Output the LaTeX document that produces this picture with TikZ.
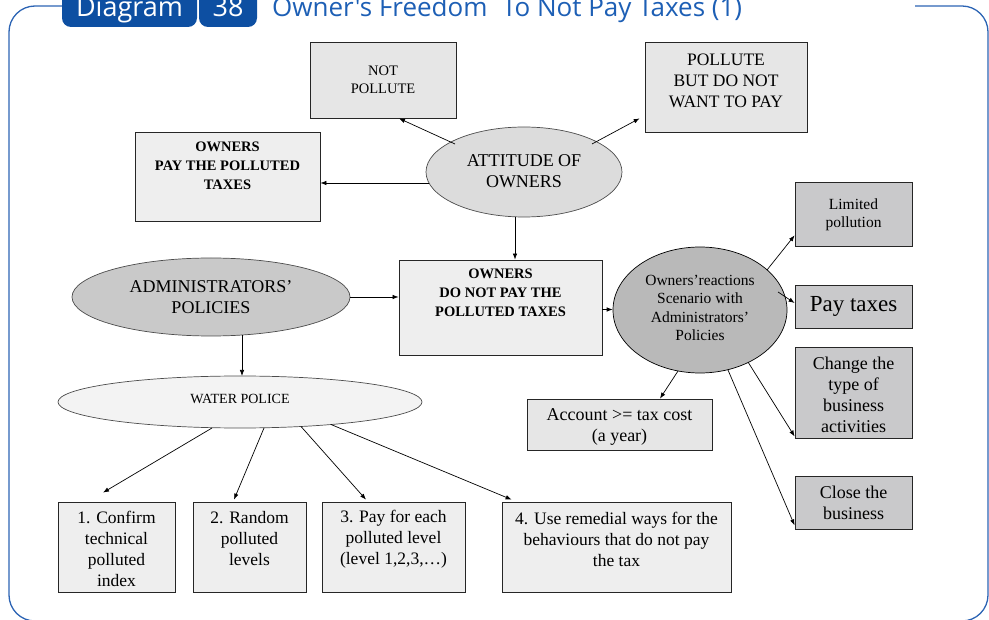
\documentclass[tikz,border=0pt]{standalone}
\usepackage{fontspec}
\setmainfont{Liberation Serif}
\newfontfamily\hdrfont{Open Sans}
\usetikzlibrary{shapes.geometric,arrows.meta,calc}
\definecolor{hdrblue}{HTML}{0D4FA2}
\definecolor{titleblue}{HTML}{1D5FB5}
\definecolor{frameblue}{HTML}{2C64B4}
\definecolor{gA}{HTML}{E6E6E6}
\definecolor{gB}{HTML}{EEEEEE}
\definecolor{gC}{HTML}{DCDCDC}
\definecolor{gD}{HTML}{C9C9C9}
\definecolor{gE}{HTML}{F3F3F3}
\definecolor{gF}{HTML}{B9B9B9}
\definecolor{gG}{HTML}{C9C9CB}
\tikzset{
  boxnode/.style={draw=black!85, line width=0.8pt, rectangle, inner sep=0pt},
  ellnode/.style={draw=black!70, line width=0.7pt, ellipse, inner sep=0pt},
  txt/.style={align=center, inner sep=0pt},
  arr/.style={-{Latex[length=6pt,width=4.5pt]}, line width=0.7pt},
  fA/.style={font=\fontsize{14.5}{18.5}\selectfont},
  fAb/.style={font=\fontsize{14.5}{18.8}\selectfont\bfseries},
  fB/.style={font=\fontsize{17.5}{21}\selectfont},
  fC/.style={font=\fontsize{18}{21}\selectfont},
  fD/.style={font=\fontsize{15.5}{18.5}\selectfont},
  fE/.style={font=\fontsize{23}{26}\selectfont},
  fW/.style={font=\fontsize{14}{17}\selectfont},
  frameline/.style={draw=frameblue, line width=1.3pt, rounded corners=26pt},
  hdrtxt/.style={font=\hdrfont\fontsize{27}{30}\selectfont, inner sep=0pt, anchor=base},
  titletxt/.style={font=\hdrfont\fontsize{26}{30}\selectfont, inner sep=0pt, anchor=base west}
}
\begin{document}
\begin{tikzpicture}[x=1pt,y=-1pt]
\useasboundingbox (0,0) rectangle (989,620);
% frame
\draw[frameline] (62,6) -- (9,6) -- (9,621) -- (988,621) -- (988,6) -- (915,6);
% header
\fill[hdrblue, rounded corners=9pt] (62,-15) -- (62,27) -- (197,27) -- (197,-15) -- cycle;
\fill[hdrblue, rounded corners=9pt] (199,-15) -- (199,27) -- (257,27) -- (257,-15) -- cycle;
\node[hdrtxt, text=white] (hdiag) at (129.5,17) {Diagram};
\node[hdrtxt, text=white] (hnum) at (228,17) {38};
\node[titletxt, text=titleblue] (htitle) at (272,17) {Owner's Freedom\hspace{0.3em} To Not Pay Taxes (1)};

% top nodes
\node[boxnode, fill=gA, minimum width=146, minimum height=76] (notp) at (383,80) {};
\node[txt, fA] (notpt) at (383,80) {NOT\\POLLUTE};
\node[boxnode, fill=gB, minimum width=185, minimum height=89] (pay) at (227.5,176.5) {};
\node[txt, fAb] (payt) at (227.5,166) {OWNERS\\PAY THE POLLUTED\\TAXES};
\node[boxnode, fill=gA, minimum width=162, minimum height=90] (pbd) at (726,87) {};
\node[txt, fB] (pbdt) at (726,81) {POLLUTE\\BUT DO NOT\\WANT TO PAY};
\node[ellnode, fill=gC, minimum width=196, minimum height=90] (att) at (524,172) {};
\node[txt, fC] (attt) at (524,171) {ATTITUDE OF\\OWNERS};

% middle
\node[boxnode, fill=gB, minimum width=203, minimum height=95] (dnp) at (500.5,307.5) {};
\node[txt, fAb] (dnpt) at (500.5,293) {OWNERS\\DO NOT PAY THE\\POLLUTED TAXES};
\node[ellnode, fill=gD, minimum width=278, minimum height=78] (adm) at (211,297) {};
\node[txt, fC] (admt) at (211,297) {ADMINISTRATORS'\\POLICIES};
\node[ellnode, fill=gE, minimum width=364, minimum height=52] (wp) at (240,402) {};
\node[txt, fW] (wpt) at (240,399) {WATER POLICE};
\node[ellnode, draw=black, fill=gF, minimum width=174, minimum height=126] (rea) at (700,310) {};
\node[txt, fD] (reat) at (700,308) {Owners'reactions\\Scenario with\\Administrators'\\Policies};

% right boxes
\node[boxnode, fill=gG, minimum width=117, minimum height=64] (lim) at (853.5,214) {};
\node[txt, fD] (limt) at (853.5,215) {Limited\\pollution};
\node[boxnode, fill=gG, minimum width=117, minimum height=43] (ptx) at (853.5,306.5) {};
\node[txt, fE] (ptxt) at (853.5,306) {Pay taxes};
\node[boxnode, fill=gG, minimum width=117, minimum height=91] (chg) at (853.5,392.5) {};
\node[txt, fC] (chgt) at (853.5,395) {Change the\\type of\\business\\activities};
\node[boxnode, fill=gG, minimum width=117, minimum height=53] (cls) at (853.5,502.5) {};
\node[txt, fC] (clst) at (853.5,503) {Close the\\business};
\node[boxnode, fill=gA, minimum width=185, minimum height=51] (acc) at (619.5,424.5) {};
\node[txt, fC] (acct) at (619.5,427) {Account >= tax cost\\(a year)};

% bottom boxes
\node[boxnode, fill=gB, minimum width=117, minimum height=90] (b1) at (116.5,547) {};
\node[txt, fB] (b1t) at (116.5,549) {1. Confirm\\technical\\polluted\\index};
\node[boxnode, fill=gB, minimum width=113, minimum height=90] (b2) at (249.5,547) {};
\node[txt, fB] (b2t) at (249.5,539) {2. Random\\polluted\\levels};
\node[boxnode, fill=gB, minimum width=143, minimum height=90] (b3) at (393.5,547) {};
\node[txt, fB] (b3t) at (393.5,539) {3. Pay for each\\polluted level\\(level 1,2,3,…)};
\node[boxnode, fill=gB, minimum width=229, minimum height=90] (b4) at (616.5,547) {};
\node[txt, fB] (b4t) at (616.5,539) {4. Use remedial ways for the\\behaviours that do not pay\\the tax};

% connectors
\draw[arr] ($(att)+(-69,-28)$) -- ($(notp.south)+(16,0)$);
\draw[arr] ($(att)+(-95,11)$) -- ($(pay.east)+(0,6.5)$);
\draw[arr] ($(att)+(68,-28)$) -- ($(pbd.south west)+(-5,-14)$);
\draw[arr] ($(att)+(-9,45)$) -- ($(dnp.north)+(14.5,0)$);
\draw[arr] (adm.east) -- (adm.east -| dnp.west);
\draw[arr] ($(adm)+(31,38)$) -- ($(wp)+(2,-26)$);
\draw[arr] ($(dnp.east)+(0,2)$) -- ($(rea.west)+(0,-0.5)$);
\draw[arr] ($(rea)+(67,-40)$) -- ($(lim.south west)+(0,-11)$);
\draw[arr] ($(rea)+(78,-18)$) -- ($(ptx.west)+(0,-3.5)$);
\draw[arr] ($(rea)+(48,52)$) -- ($(chg.south west)+(0,-2)$);
\draw[arr] ($(rea)+(28,60)$) -- ($(cls.south west)+(0,-4)$);
\draw[arr] ($(rea)+(-22,61)$) -- ($(acc.north)+(40.5,0)$);
\draw[arr] ($(wp)+(-28,26)$) -- ($(b1.north)+(-13.5,-9)$);
\draw[arr] ($(wp)+(24,26)$) -- ($(b2.north)+(-15.5,-2)$);
\draw[arr] ($(wp)+(61,24.5)$) -- ($(b3.north)+(-27.5,-2)$);
\draw[arr] ($(wp)+(91,22.5)$) -- ($(b4.north west)+(10,-2)$);
\end{tikzpicture}
\end{document}
